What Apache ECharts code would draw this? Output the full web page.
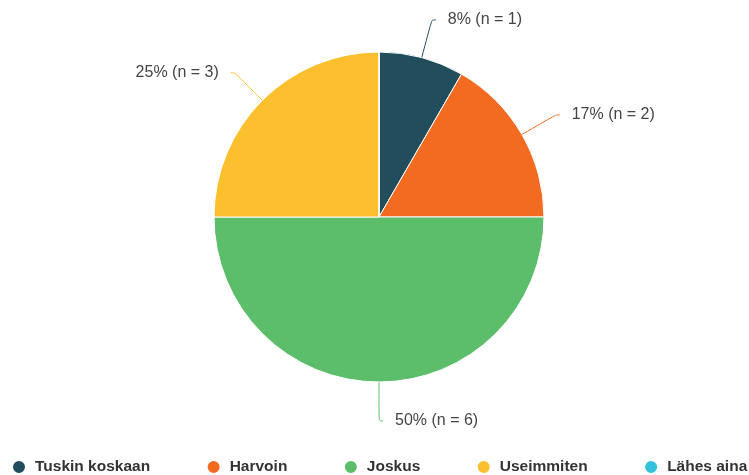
<!DOCTYPE html>
<html><head><meta charset="utf-8">
<script src="https://cdn.jsdelivr.net/npm/echarts@6/dist/echarts.min.js"></script>
<style>html,body{margin:0;padding:0;background:#fff}#c{width:749px;height:475px}</style>
</head><body><div id="c"></div>
<script>
const categories = ['Tuskin koskaan', 'Harvoin', 'Joskus', 'Useimmiten', 'Lähes aina'];
const counts = [1, 2, 6, 3, 0];
const colors = ['#214d5c', '#f26b21', '#5cbd6a', '#fcc02e', '#33c2dc'];
const total = counts.reduce((a, b) => a + b, 0);
const chart = echarts.init(document.getElementById('c'), null, {renderer: 'canvas'});
chart.setOption({
  animation: false,
  color: colors,
  legend: {
    bottom: -5, left: 6, width: 800, itemGap: 55.5, icon: 'circle', itemWidth: 14, itemHeight: 14,
    textStyle: {fontFamily: 'Liberation Sans', fontWeight: 'bold', fontSize: 15.5, color: '#333', padding: [0, 0, 0, 4]},
    data: categories
  },
  series: [{
    type: 'pie', center: [379, 217], radius: 165, startAngle: 90, clockwise: true,
    stillShowZeroSum: false,
    itemStyle: {borderColor: '#fff', borderWidth: 1},
    label: {
      formatter: p => Math.round(p.value / total * 100) + '% (n = ' + p.value + ')',
      fontFamily: 'Liberation Sans', fontSize: 16, color: '#444',
      distanceToLabelLine: 12
    },
    labelLine: {length: 39, length2: 4, smooth: true, lineStyle: {width: 1}},
    data: categories.map((c, i) => ({name: c, value: counts[i],
      label: {show: counts[i] > 0}, labelLine: {show: counts[i] > 0}}))
  }]
});
</script></body></html>
